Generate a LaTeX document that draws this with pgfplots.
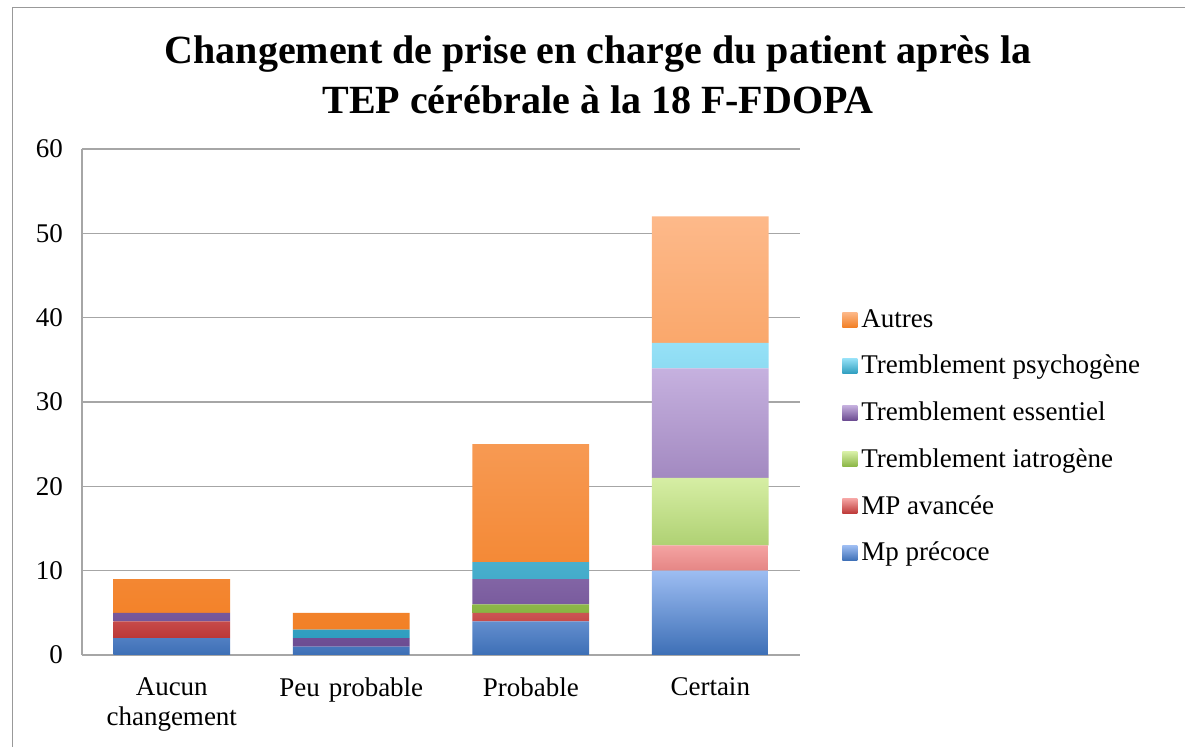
\documentclass[border=0pt]{standalone}
\usepackage{pgfplots}
\pgfplotsset{compat=1.18}
\usepackage{fontspec}
\setmainfont{Liberation Serif}

\definecolor{mpT}{HTML}{9DBDF2}\definecolor{mpB}{HTML}{3D6FB6}
\definecolor{avT}{HTML}{F4A3A2}\definecolor{avB}{HTML}{BC3736}
\definecolor{iaT}{HTML}{D6EEA4}\definecolor{iaB}{HTML}{88B442}
\definecolor{esT}{HTML}{C6B1DF}\definecolor{esB}{HTML}{6C4C92}
\definecolor{psT}{HTML}{96E1F7}\definecolor{psB}{HTML}{2F9EBF}
\definecolor{auT}{HTML}{FDB98A}\definecolor{auB}{HTML}{F28026}

\begin{document}
\begin{tikzpicture}
\path[use as bounding box] (0pt,0pt) rectangle (592.5pt,-373.5pt);
\draw[gray!80] (6pt,-373.5pt) -- (6pt,-3.5pt) -- (592.5pt,-3.5pt);
\node[font=\bfseries\fontsize{20}{25}\selectfont, align=center] at (299pt,-37.5pt)
  {Changement de prise en charge du patient après la\\TEP cérébrale à la 18 F-FDOPA};
\begin{axis}[
    at={(41pt,-327.5pt)}, anchor=south west,
    scale only axis,
    width=359pt, height=253pt,
    ybar stacked,
    bar width=0.65,
    xmin=-0.5, xmax=3.5,
    ymin=0, ymax=60,
    ytick={0,10,20,30,40,50,60},
    xtick={0,1,2,3},
    xticklabels={Aucun\\changement, Peu probable, Probable, Certain},
    x tick label style={align=center, text width=85pt, font=\fontsize{13.5}{15}\selectfont},
    y tick label style={font=\fontsize{13.5}{15}\selectfont},
    /pgf/number format/assume math mode=true,
    major tick length=0pt,
    ymajorgrids,
    grid style={gray!70, line width=0.8pt},
    axis x line*=bottom,
    axis y line*=left,
    axis line style={gray!70, line width=0.8pt},
    xticklabel style={yshift=-8pt},
    yticklabel style={xshift=-6pt},
    reverse legend,
    legend style={at={(1.05,0.70)}, anchor=north west, draw=none, fill=none,
        font=\fontsize{13.5}{15}\selectfont, row sep=8.5pt,
        /tikz/every even column/.append style={column sep=3pt}},
    legend cell align=left,
    legend image code/.code={\draw[#1, draw=none] (0pt,-3.75pt) rectangle (7.5pt,3.75pt);},
]
\addplot[draw=none, top color=mpT, bottom color=mpB] coordinates {(0,2) (1,1) (2,4) (3,10)};
\addlegendentry{Mp précoce}
\addplot[draw=none, top color=avT, bottom color=avB] coordinates {(0,2) (1,0) (2,1) (3,3)};
\addlegendentry{MP avancée}
\addplot[draw=none, top color=iaT, bottom color=iaB] coordinates {(0,0) (1,0) (2,1) (3,8)};
\addlegendentry{Tremblement iatrogène}
\addplot[draw=none, top color=esT, bottom color=esB] coordinates {(0,1) (1,1) (2,3) (3,13)};
\addlegendentry{Tremblement essentiel}
\addplot[draw=none, top color=psT, bottom color=psB] coordinates {(0,0) (1,1) (2,2) (3,3)};
\addlegendentry{Tremblement psychogène}
\addplot[draw=none, top color=auT, bottom color=auB] coordinates {(0,4) (1,2) (2,14) (3,15)};
\addlegendentry{Autres}
\end{axis}
\end{tikzpicture}
\end{document}
